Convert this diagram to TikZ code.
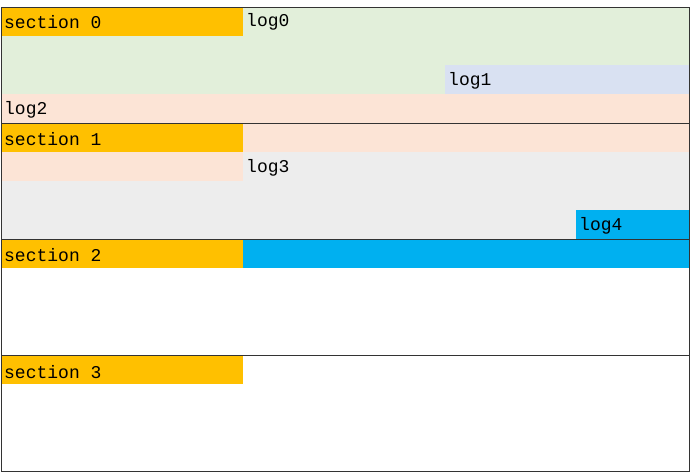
\documentclass[tikz,border=0pt]{standalone}
\usepackage{fontspec}
\setmonofont{Liberation Mono}
\definecolor{sec}{HTML}{FFC000}
\definecolor{grn}{HTML}{E2EFDA}
\definecolor{lav}{HTML}{D9E1F2}
\definecolor{pch}{HTML}{FCE4D6}
\definecolor{gry}{HTML}{EDEDED}
\definecolor{blu}{HTML}{00B0F0}
\begin{document}
\begin{tikzpicture}[x=1pt,y=-1pt,
  lbl/.style={anchor=west,inner sep=0pt,font=\ttfamily\fontsize{18}{18}\selectfont}]
\useasboundingbox (0,0) rectangle (690,473);
\fill[white] (0,0) rectangle (690,473);
% log0 green
\fill[grn] (243,7) rectangle (689,36);
\fill[grn] (1,36) rectangle (689,94);
\fill[lav] (445,65) rectangle (689,94);
% log2 peach
\fill[pch] (1,94) rectangle (689,123);
\fill[pch] (243,123) rectangle (689,152);
\fill[pch] (1,152) rectangle (243,181);
% log3 gray
\fill[gry] (243,152) rectangle (689,181);
\fill[gry] (1,181) rectangle (689,239);
\fill[blu] (576,210) rectangle (689,239);
\fill[blu] (243,239) rectangle (689,268);
% sections
\foreach \y in {7,123,239,355} \fill[sec] (1,\y) rectangle (243,\y+29);
\foreach \y in {123,239,355} \draw[black!80] (1,\y) -- (689,\y);
\draw[black!80] (1,7) rectangle (689,471);
\node[lbl] (s0) at (4,22) {section 0};
\node[lbl] (s1) at (4,139) {section 1};
\node[lbl] (s2) at (4,255) {section 2};
\node[lbl] (s3) at (4,372) {section 3};
\node[lbl] (l0) at (246,22) {log0};
\node[lbl] (l1) at (448,81) {log1};
\node[lbl] (l2) at (4,110) {log2};
\node[lbl] (l3) at (246,168) {log3};
\node[lbl] (l4) at (579,226) {log4};
\end{tikzpicture}
\end{document}
